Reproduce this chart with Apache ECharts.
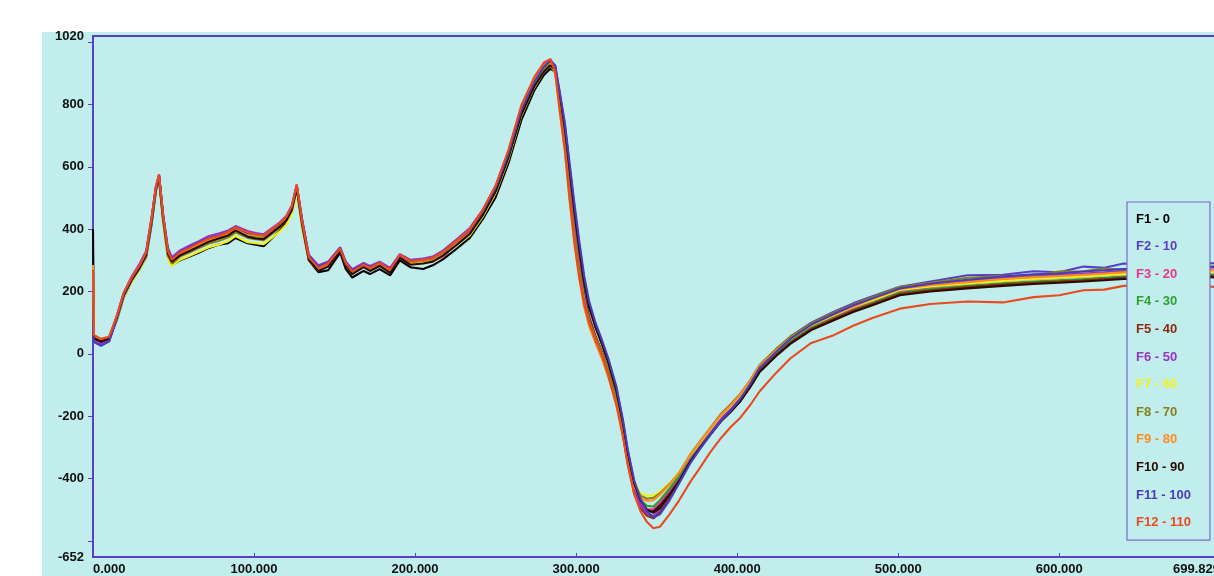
<!DOCTYPE html>
<html>
<head>
<meta charset="utf-8">
<script src="https://cdn.jsdelivr.net/npm/echarts@6/dist/echarts.min.js"></script>
<style>html,body{margin:0;padding:0;background:#fff;overflow:hidden}#c{width:1224px;height:576px}</style>
</head>
<body>
<div id="c"></div>
<script>
var xs = [0, 0.6, 5, 10, 15, 19, 24, 29, 33, 36.5,
  39, 41, 43.5, 46.5, 49, 54, 60, 66, 72, 78,
  84, 88.5, 96, 101, 106, 116, 120, 123.5, 126.5, 130,
  134, 140, 146, 153.5, 157, 161, 168, 172, 178, 184.5,
  190.5, 197, 205, 211, 217.5, 226, 234, 242, 250, 258,
  266, 274, 280, 284, 287, 290, 293, 296, 299, 302,
  305, 308, 312, 316, 320, 325, 329, 332, 336, 340,
  344, 348, 352, 358, 364, 371, 377, 383, 390, 396,
  402, 408, 414, 424, 433, 446, 460, 472, 484, 501,
  520, 543, 565, 584, 600, 615, 628, 640, 655, 670,
  685, 699.8];

var f1 = [400, 50, 38, 45, 112, 180, 232, 272, 310, 420,
  520, 560, 430, 310, 285, 300, 312, 325, 340, 350,
  355, 372, 355, 350, 345, 395, 420, 455, 525, 405,
  300, 262, 268, 325, 272, 245, 266, 256, 272, 252,
  300, 278, 272, 284, 304, 338, 372, 432, 502, 612,
  750, 845, 895, 915, 905, 810, 700, 560, 410, 290,
  185, 115, 55, 5, -55, -150, -255, -345, -435, -480,
  -505, -505, -485, -440, -400, -340, -300, -260, -215, -185,
  -150, -105, -55, -5, 35, 80, 112, 140, 162, 195,
  205, 212, 224, 228, 234, 236, 242, 240, 248, 246,
  252, 250];
var f2 = [60, 42, 28, 40, 118, 188, 240, 282, 322, 432,
  528, 570, 445, 332, 305, 325, 342, 358, 372, 380,
  392, 405, 388, 383, 380, 418, 438, 472, 538, 425,
  315, 280, 292, 340, 292, 268, 288, 278, 292, 272,
  315, 298, 302, 310, 330, 365, 400, 460, 535, 645,
  785, 875, 925, 942, 925, 830, 735, 600, 470, 350,
  240, 160, 95, 40, -20, -110, -215, -310, -410, -470,
  -510, -528, -510, -465, -410, -345, -300, -258, -212, -178,
  -140, -92, -40, 10, 55, 100, 135, 162, 185, 215,
  232, 252, 254, 265, 262, 280, 276, 290, 284, 290,
  292, 290];
var f3 = [58, 52, 40, 48, 122, 190, 242, 280, 320, 438,
  532, 572, 442, 328, 300, 322, 338, 352, 366, 374,
  388, 402, 386, 380, 376, 414, 434, 468, 538, 418,
  308, 272, 288, 336, 288, 262, 284, 272, 288, 266,
  318, 296, 298, 300, 312, 355, 392, 452, 528, 638,
  778, 868, 920, 940, 912, 795, 685, 530, 390, 272,
  175, 105, 45, -5, -65, -155, -255, -345, -435, -480,
  -500, -498, -478, -438, -398, -338, -296, -256, -208, -178,
  -142, -98, -48, 2, 42, 88, 120, 147, 170, 202,
  214, 226, 234, 240, 244, 248, 252, 256, 258, 262,
  264, 262];
var f4 = [60, 55, 44, 50, 120, 188, 238, 278, 318, 432,
  528, 568, 438, 324, 296, 318, 334, 348, 362, 370,
  382, 398, 380, 375, 372, 412, 432, 466, 535, 415,
  306, 272, 286, 335, 286, 262, 282, 270, 286, 264,
  314, 292, 296, 302, 322, 356, 390, 450, 525, 635,
  775, 865, 915, 935, 910, 798, 688, 540, 400, 282,
  178, 100, 45, -2, -62, -150, -248, -336, -425, -468,
  -488, -490, -470, -432, -392, -333, -292, -252, -206, -176,
  -140, -95, -46, 2, 40, 84, 115, 140, 164, 196,
  208, 218, 226, 232, 236, 240, 244, 248, 250, 253,
  255, 254];
var f5 = [62, 56, 44, 52, 122, 192, 242, 282, 322, 438,
  532, 574, 442, 326, 300, 322, 338, 354, 368, 378,
  390, 404, 388, 382, 378, 418, 438, 472, 540, 420,
  310, 276, 290, 336, 290, 266, 286, 276, 290, 268,
  316, 296, 300, 306, 326, 360, 394, 454, 530, 640,
  780, 870, 922, 940, 918, 805, 700, 555, 415, 300,
  195, 120, 58, 5, -58, -150, -255, -350, -445, -495,
  -520, -528, -508, -458, -410, -345, -302, -262, -215, -185,
  -150, -105, -55, -5, 35, 80, 112, 138, 160, 192,
  204, 214, 222, 228, 232, 236, 240, 244, 246, 250,
  252, 250];
var f6 = [55, 40, 30, 45, 125, 195, 248, 290, 330, 442,
  535, 575, 450, 340, 310, 332, 348, 362, 378, 386,
  396, 410, 394, 388, 384, 422, 442, 476, 542, 428,
  318, 284, 296, 342, 296, 272, 292, 282, 296, 276,
  320, 302, 306, 312, 332, 368, 404, 462, 538, 648,
  788, 878, 928, 945, 920, 805, 695, 548, 405, 285,
  182, 108, 50, -2, -62, -152, -255, -348, -440, -488,
  -512, -520, -498, -450, -405, -340, -298, -256, -208, -175,
  -138, -92, -42, 8, 50, 95, 128, 155, 178, 210,
  222, 235, 244, 250, 254, 258, 262, 266, 268, 270,
  272, 270];
var f7 = [62, 55, 45, 52, 115, 180, 230, 270, 312, 428,
  520, 562, 425, 305, 282, 302, 315, 328, 342, 350,
  362, 378, 358, 355, 352, 392, 414, 448, 515, 400,
  300, 268, 284, 332, 284, 262, 282, 272, 286, 266,
  310, 292, 296, 300, 318, 350, 380, 440, 515, 625,
  765, 855, 905, 925, 905, 780, 660, 500, 370, 262,
  170, 102, 48, 0, -58, -145, -240, -325, -410, -448,
  -455, -455, -442, -415, -380, -325, -285, -245, -198, -168,
  -132, -88, -40, 8, 48, 92, 124, 150, 172, 205,
  216, 226, 234, 240, 244, 248, 252, 256, 258, 262,
  264, 262];
var f8 = [60, 55, 45, 50, 118, 185, 236, 276, 316, 430,
  525, 566, 432, 315, 290, 312, 326, 340, 354, 362,
  374, 390, 372, 368, 365, 405, 426, 460, 530, 410,
  304, 272, 288, 334, 288, 264, 284, 274, 288, 268,
  312, 294, 298, 304, 324, 358, 392, 450, 525, 635,
  772, 862, 912, 932, 908, 790, 676, 520, 385, 270,
  172, 105, 52, 2, -55, -142, -240, -328, -415, -455,
  -465, -462, -448, -418, -382, -322, -280, -240, -192, -162,
  -128, -85, -35, 15, 55, 98, 132, 158, 182, 214,
  228, 244, 250, 252, 264, 265, 274, 270, 280, 276,
  282, 280];
var f9 = [285, 58, 46, 52, 122, 192, 242, 282, 322, 438,
  530, 570, 440, 326, 300, 320, 336, 352, 366, 374,
  386, 402, 384, 380, 376, 414, 434, 468, 536, 416,
  306, 274, 288, 336, 290, 264, 285, 275, 290, 268,
  316, 296, 300, 306, 326, 360, 396, 458, 535, 648,
  790, 878, 926, 935, 900, 770, 650, 490, 350, 240,
  150, 90, 35, -15, -75, -160, -255, -340, -425, -462,
  -472, -470, -452, -420, -382, -322, -282, -242, -196, -166,
  -130, -86, -38, 10, 50, 94, 126, 152, 176, 208,
  220, 230, 240, 246, 250, 254, 258, 262, 264, 268,
  270, 268];
var f10 = [60, 50, 40, 48, 118, 186, 236, 276, 316, 430,
  525, 566, 436, 322, 296, 316, 330, 345, 360, 370,
  380, 396, 376, 370, 368, 408, 428, 462, 530, 412,
  302, 266, 280, 330, 282, 256, 278, 266, 282, 260,
  308, 286, 290, 296, 316, 350, 385, 445, 520, 630,
  768, 858, 905, 925, 912, 825, 725, 590, 455, 335,
  228, 150, 85, 30, -30, -120, -222, -318, -415, -470,
  -500, -510, -495, -452, -408, -345, -302, -262, -216, -186,
  -152, -108, -58, -8, 32, 76, 108, 134, 156, 188,
  200, 210, 218, 224, 228, 232, 236, 240, 242, 245,
  247, 245];
var f11 = [58, 38, 26, 40, 120, 190, 242, 284, 324, 436,
  530, 572, 446, 334, 306, 326, 343, 358, 372, 380,
  392, 406, 388, 384, 380, 418, 438, 472, 538, 424,
  314, 280, 292, 340, 292, 268, 288, 278, 292, 272,
  316, 298, 302, 308, 328, 364, 398, 458, 532, 642,
  782, 872, 922, 940, 925, 835, 740, 610, 480, 360,
  250, 170, 100, 45, -15, -105, -210, -305, -405, -465,
  -505, -525, -515, -470, -415, -350, -305, -262, -215, -182,
  -145, -98, -45, 5, 48, 94, 128, 155, 178, 210,
  225, 238, 248, 255, 258, 264, 268, 272, 275, 278,
  280, 278];
var f12 = [270, 60, 48, 55, 125, 195, 245, 285, 325, 440,
  535, 576, 445, 330, 302, 325, 340, 356, 370, 378,
  392, 406, 390, 384, 380, 420, 440, 476, 544, 422,
  310, 276, 290, 338, 290, 264, 286, 276, 292, 270,
  318, 298, 302, 308, 328, 364, 400, 462, 540, 655,
  798, 888, 935, 946, 905, 775, 655, 495, 355, 245,
  160, 100, 45, -5, -70, -165, -265, -355, -450, -505,
  -540, -560, -555, -515, -470, -410, -365, -318, -270, -235,
  -205, -165, -120, -62, -15, 35, 60, 90, 115, 145,
  160, 168, 165, 182, 188, 204, 206, 218, 220, 226,
  222, 212];

var names = ['F1 - 0', 'F2 - 10', 'F3 - 20', 'F4 - 30', 'F5 - 40', 'F6 - 50',
  'F7 - 60', 'F8 - 70', 'F9 - 80', 'F10 - 90', 'F11 - 100', 'F12 - 110'];
var colors = ['#000000', '#5a3fc4', '#e8368a', '#2ea02e', '#8b2c10', '#9a34c8',
  '#f2f21a', '#82821a', '#ff8c1e', '#2c0a02', '#4a3cb8', '#ea4a1e'];
var seriesValues = [f1, f2, f3, f4, f5, f6, f7, f8, f9, f10, f11, f12];
var yLabelValues = [-652, -400, -200, 0, 200, 400, 600, 800, 1020];
var yTickValues = [-600, -400, -200, 0, 200, 400, 600, 800, 1000];
var xLabelValues = [0, 100, 200, 300, 400, 500, 600, 699.829];
var xTickValues = [100, 200, 300, 400, 500, 600];

var axisColor = '#5b3ec2';
var bg = '#c1eded';
var font = 'Liberation Sans, Arial, sans-serif';

var chart = echarts.init(document.getElementById('c'), null, {renderer: 'canvas'});
chart.setOption({
  animation: false,
  backgroundColor: '#ffffff',
  graphic: [{
    type: 'rect', z: -100, silent: true,
    shape: {x: 42, y: 32, width: 1300, height: 600},
    style: {fill: bg}
  }],
  grid: {
    left: 93, right: 4, top: 36, bottom: 19,
    show: true, borderColor: axisColor, borderWidth: 2, backgroundColor: 'transparent'
  },
  legend: {
    orient: 'vertical', left: 1127, top: 202,
    padding: [10, 19, 11, 4],
    itemWidth: 0, itemHeight: 14, itemGap: 14.1,
    icon: 'none',
    backgroundColor: bg,
    borderColor: '#7a6cc8', borderWidth: 1.2,
    textStyle: {fontSize: 13, fontWeight: 'bold', fontFamily: font},
    data: names.map(function (n, i) { return {name: n, textStyle: {color: colors[i]}}; })
  },
  xAxis: {
    type: 'value', min: 0, max: 699.829,
    axisLine: {show: true, onZero: false, lineStyle: {color: axisColor, width: 2}},
    axisTick: {show: true, inside: true, length: 4, customValues: xTickValues, lineStyle: {color: axisColor, width: 1}},
    axisLabel: {
      customValues: xLabelValues, margin: 6,
      color: '#111', fontSize: 13, fontWeight: 'bold', fontFamily: font,
      alignMinLabel: 'left', alignMaxLabel: 'right',
      formatter: function (v) { return Number(v).toFixed(3); }
    },
    splitLine: {show: false}
  },
  yAxis: {
    type: 'value', min: -652, max: 1020,
    axisLine: {show: true, onZero: false, lineStyle: {color: axisColor, width: 2}},
    axisTick: {show: true, length: 5, customValues: yTickValues, lineStyle: {color: axisColor, width: 1}},
    axisLabel: {
      customValues: yLabelValues, margin: 9,
      color: '#111', fontSize: 13, fontWeight: 'bold', fontFamily: font,
      formatter: function (v) { return String(v); }
    },
    splitLine: {show: false}
  },
  series: seriesValues.map(function (vals, i) {
    return {
      name: names[i], type: 'line', showSymbol: false, symbol: 'none',
      color: colors[i],
      lineStyle: {width: 2.1, color: colors[i]},
      data: xs.map(function (x, k) { return [x, vals[k]]; })
    };
  })
});
</script>
</body>
</html>
